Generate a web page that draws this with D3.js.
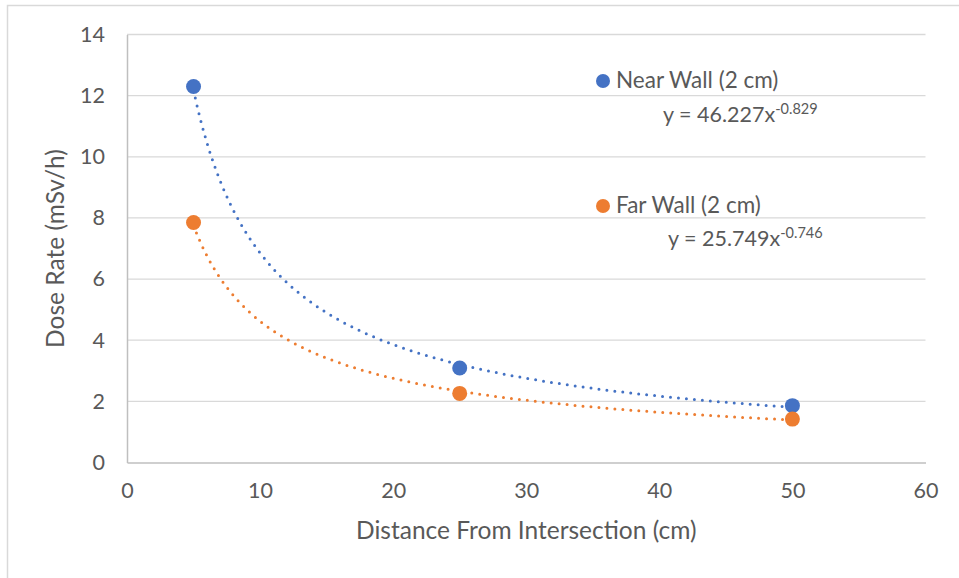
<!DOCTYPE html>
<html>
<head>
<meta charset="utf-8">
<script src="https://cdn.jsdelivr.net/npm/d3@7"></script>
<style>
  html, body { margin: 0; padding: 0; background: #fff; }
  svg { display: block; }
  text { font-family: Lato, "Open Sans", sans-serif; fill: #595959; }
</style>
</head>
<body>
<svg id="chart" width="959" height="578"></svg>
<script>
// Measured dose rate at each distance from the intersection
const distances = [5, 25, 50];
const nearWall = [12.3, 3.09, 1.86];
const farWall = [7.85, 2.26, 1.42];

// Power-law fits y = a * x^b for each series
const nearFit = { a: 46.227, b: -0.829 };
const farFit = { a: 25.749, b: -0.746 };

const xTicks = [0, 10, 20, 30, 40, 50, 60];
const yTicks = [0, 2, 4, 6, 8, 10, 12, 14];

const seriesNames = ["Near Wall (2 cm)", "Far Wall (2 cm)"];
const colors = ["#4472c4", "#ed7d31"];

const svg = d3.select("#chart");

// chart frame
svg.append("rect")
  .attr("x", 7.5).attr("y", 5.5)
  .attr("width", 980).attr("height", 600)
  .attr("fill", "none").attr("stroke", "#d9d9d9").attr("stroke-width", 1.5);

const plot = { left: 127, right: 925.5, top: 34.5, bottom: 462.5 };

const x = d3.scaleLinear().domain([0, 60]).range([plot.left, plot.right]);
const y = d3.scaleLinear().domain([0, 14]).range([plot.bottom, plot.top]);

// horizontal gridlines
svg.append("g")
  .selectAll("line")
  .data(yTicks.filter(t => t > 0))
  .join("line")
  .attr("x1", plot.left).attr("x2", plot.right)
  .attr("y1", d => y(d)).attr("y2", d => y(d))
  .attr("stroke", "#d9d9d9").attr("stroke-width", 1.3);

const tickFont = 21.5;

// axes
const xAxis = svg.append("g")
  .attr("transform", `translate(0,${plot.bottom})`)
  .call(d3.axisBottom(x).tickValues(xTicks).tickSize(0).tickPadding(20).tickFormat(d3.format("d")));
xAxis.select(".domain").attr("stroke", "#bfbfbf").attr("stroke-width", 1.5);
xAxis.selectAll("text").attr("font-size", tickFont).attr("fill", "#595959")
  .style("font-family", "Lato, 'Open Sans', sans-serif");

const yAxis = svg.append("g")
  .attr("transform", `translate(${plot.left},0)`)
  .call(d3.axisLeft(y).tickValues(yTicks).tickSize(0).tickPadding(22).tickFormat(d3.format("d")));
yAxis.select(".domain").attr("stroke", "#bfbfbf").attr("stroke-width", 1.5);
yAxis.selectAll("text").attr("font-size", tickFont).attr("fill", "#595959")
  .style("font-family", "Lato, 'Open Sans', sans-serif");

// axis titles
svg.append("text")
  .attr("x", (plot.left + plot.right) / 2).attr("y", 539)
  .attr("text-anchor", "middle").attr("font-size", 24.5)
  .text("Distance From Intersection (cm)");

svg.append("text")
  .attr("transform", `translate(64,${(plot.top + plot.bottom) / 2}) rotate(-90)`)
  .attr("text-anchor", "middle").attr("font-size", 24.5)
  .text("Dose Rate (mSv/h)");

// dotted trendlines from the fitted power laws
const fits = [nearFit, farFit];
const xs = d3.range(5, 50.01, 0.25);
const line = d3.line().x(d => x(d[0])).y(d => y(d[1]));
fits.forEach((f, i) => {
  svg.append("path")
    .datum(xs.map(v => [v, f.a * Math.pow(v, f.b)]))
    .attr("d", line)
    .attr("fill", "none")
    .attr("stroke", colors[i])
    .attr("stroke-width", 3)
    .attr("stroke-linecap", "round")
    .attr("stroke-dasharray", "0 8");
});

// data markers
[nearWall, farWall].forEach((vals, i) => {
  svg.append("g")
    .selectAll("circle")
    .data(vals.map((v, j) => [distances[j], v]))
    .join("circle")
    .attr("cx", d => x(d[0])).attr("cy", d => y(d[1]))
    .attr("r", 7.5)
    .attr("fill", colors[i]);
});

// series labels with equations
const labelPos = [
  { lx: 603, ly: 81, ty: 88, ex: 663, ey: 122 },
  { lx: 603, ly: 206, ty: 213, ex: 668, ey: 246 }
];
const fmt = f => `y = ${f.a}x`;
seriesNames.forEach((name, i) => {
  const p = labelPos[i];
  svg.append("circle").attr("cx", p.lx).attr("cy", p.ly).attr("r", 7).attr("fill", colors[i]);
  svg.append("text").attr("x", p.lx + 13).attr("y", p.ty).attr("font-size", 22.5).text(name);
  const eq = svg.append("text").attr("x", p.ex).attr("y", p.ey).attr("font-size", 21.5);
  eq.append("tspan").text(fmt(fits[i]));
  eq.append("tspan").attr("dy", -8).attr("font-size", 14.5).text(fits[i].b.toFixed(3));
});
</script>
</body>
</html>
